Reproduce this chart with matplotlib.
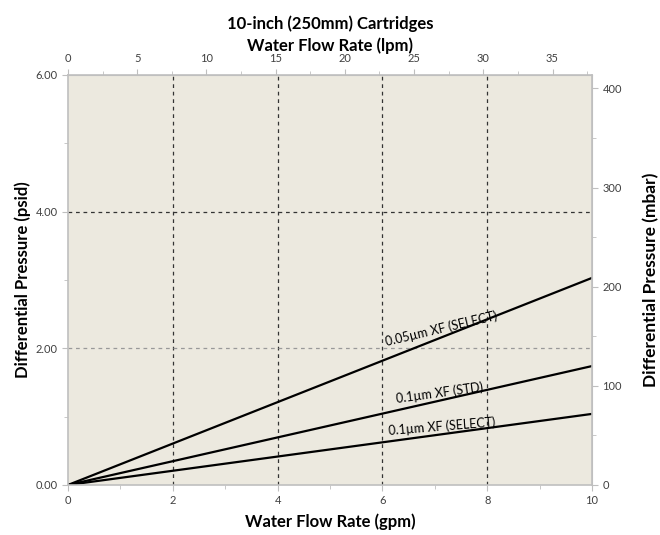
import numpy as np
import matplotlib.pyplot as plt
from matplotlib.ticker import MultipleLocator, FormatStrFormatter

plt.rcParams['font.family'] = ['Lato', 'DejaVu Sans']

# flow in gpm, differential pressure in psid
flow_gpm = [0, 10]
dp_005_select = [0, 3.03]
dp_01_std = [0, 1.74]
dp_01_select = [0, 1.04]
labels = ["0.05\u00b5m XF (SELECT)", "0.1\u00b5m XF (STD)", "0.1\u00b5m XF (SELECT)"]
label_x = [7.15, 7.1, 7.15]

GPM_TO_LPM = 3.78541
PSI_TO_MBAR = 68.9476
tick_col = "#404040"
spine_col = "#BFBFBF"

fig = plt.figure(figsize=(6.6, 5.35), dpi=100)
ax = fig.add_axes([0.103, 0.0935, 0.794, 0.7665])
ax.set_facecolor("#ECE9DF")

series = [dp_005_select, dp_01_std, dp_01_select]
for ys, lab, lx in zip(series, labels, label_x):
    ax.plot(flow_gpm, ys, color="black", lw=1.6)
    ly = np.interp(lx, flow_gpm, ys)
    slope = (ys[1] - ys[0]) / (flow_gpm[1] - flow_gpm[0])
    # rotation in screen space
    p0 = ax.transData.transform((0, 0))
    p1 = ax.transData.transform((1, slope))
    ang = np.degrees(np.arctan2(p1[1] - p0[1], p1[0] - p0[0]))
    ax.annotate(lab, (lx, ly), xytext=(0, 1.2), textcoords="offset points",
                rotation=ang, rotation_mode="anchor", ha="center", va="bottom",
                fontsize=9, color="black")

ax.set_xlim(0, 10)
ax.set_ylim(0, 6)
ax.xaxis.set_major_locator(MultipleLocator(2))
ax.xaxis.set_minor_locator(MultipleLocator(1))
ax.yaxis.set_major_locator(MultipleLocator(2))
ax.yaxis.set_minor_locator(MultipleLocator(1))
ax.yaxis.set_major_formatter(FormatStrFormatter("%.2f"))

for gx in [2, 4, 6, 8]:
    ax.axvline(gx, color="#333333", ls=(0, (3, 3)), lw=0.9, zorder=1)
ax.axhline(4, color="#333333", ls=(0, (3, 3)), lw=0.9, zorder=1)
ax.axhline(2, color="#999999", ls=(0, (3, 3)), lw=0.9, zorder=1)

for s in ax.spines.values():
    s.set_color(spine_col)
    s.set_linewidth(1.2)

ax.tick_params(which="both", colors=spine_col, labelcolor=tick_col, labelsize=8, length=4)
ax.tick_params(which="minor", length=3)

ax.set_xlabel("Water Flow Rate (gpm)", fontsize=12, fontweight="bold", labelpad=5)
ax.set_ylabel("Differential Pressure (psid)", fontsize=12, fontweight="bold", labelpad=3)

top = ax.secondary_xaxis("top", functions=(lambda x: x * GPM_TO_LPM, lambda x: x / GPM_TO_LPM))
top.xaxis.set_major_locator(MultipleLocator(5))
top.xaxis.set_minor_locator(MultipleLocator(2.5))
top.tick_params(which="both", colors=spine_col, labelcolor=tick_col, labelsize=8, length=4)
top.tick_params(which="minor", length=3)
top.spines["top"].set_color(spine_col)
top.set_xlabel("10-inch (250mm) Cartridges\nWater Flow Rate (lpm)", fontsize=12,
               fontweight="bold", labelpad=2, linespacing=1.35)

right = ax.secondary_yaxis("right", functions=(lambda y: y * PSI_TO_MBAR, lambda y: y / PSI_TO_MBAR))
right.yaxis.set_major_locator(MultipleLocator(100))
right.yaxis.set_minor_locator(MultipleLocator(50))
right.tick_params(which="both", colors=spine_col, labelcolor=tick_col, labelsize=8, length=4)
right.tick_params(which="minor", length=3)
right.spines["right"].set_color(spine_col)
right.set_ylabel("Differential Pressure (mbar)", fontsize=12.5, fontweight="bold", labelpad=15)

fig.savefig("out.png", dpi=100)
